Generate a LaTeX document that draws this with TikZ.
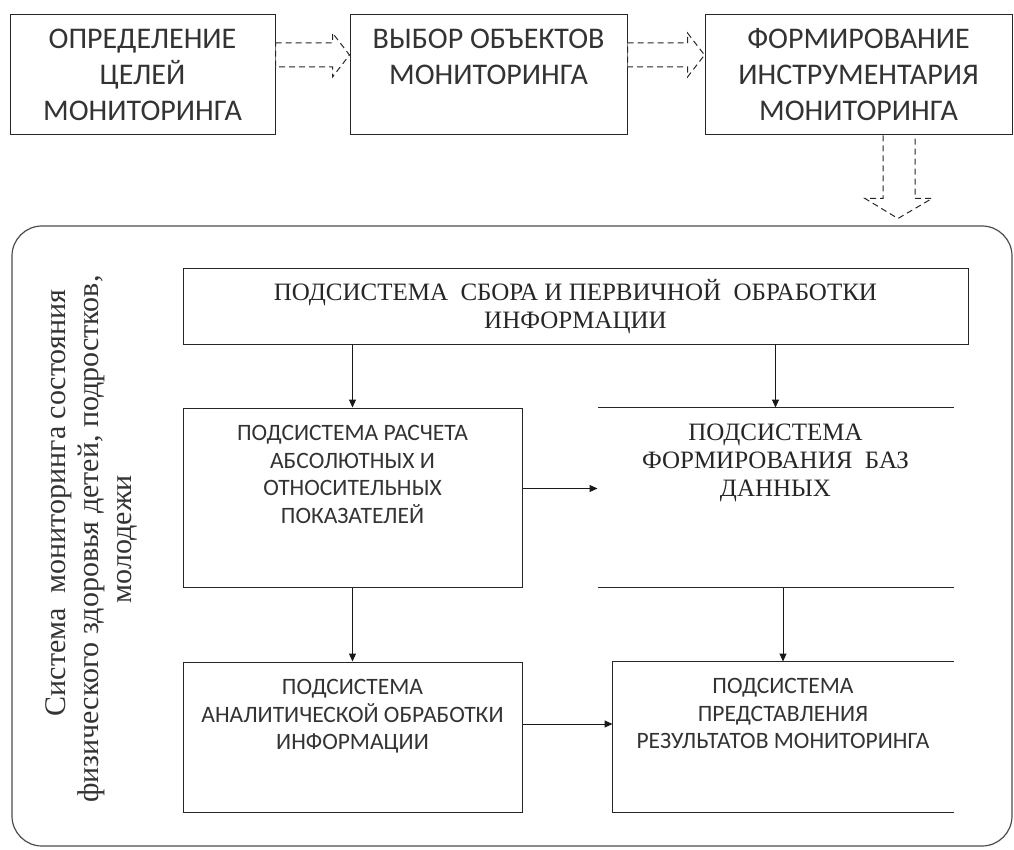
\documentclass[tikz,border=0pt]{standalone}
\usepackage{fontspec}
\setmainfont{Liberation Serif}
\newfontfamily\calfont{Carlito}
\usetikzlibrary{calc}
\usetikzlibrary{arrows,arrows.meta}
\usetikzlibrary{positioning}

\begin{document}
\begin{tikzpicture}[%
		x=1pt, y=-1pt,
		>={Triangle[length=8pt,width=7pt]},
		stagebox/.style={rectangle, draw=black!85, line width=1pt, align=center, inner sep=0pt, text=black!80, font=\calfont\fontsize{30}{36}\selectfont},
		subbox/.style={rectangle, draw=black!85, line width=1pt, align=center, inner sep=0pt, text=black!80, font=\calfont\fontsize{23.5}{27.5}\selectfont},
		serifbox/.style={rectangle, draw=black!85, line width=1pt, align=center, inner sep=0pt, text=black!85, font=\fontsize{25}{28}\selectfont},
		dasharrow/.style={draw=black!85, line width=1pt, dash pattern=on 6pt off 4pt, fill=white},
		flow/.style={->, line width=1pt, black!90}
		]
		\useasboundingbox (0,0) rectangle (1014,850);
		%%%%%%%%%%%%%%%
		%    NODES    %
		%%%%%%%%%%%%%%%
		% stages
		\node[stagebox, minimum width=265pt, minimum height=120pt] (goals) at (142.5,75) {ОПРЕДЕЛЕНИЕ\\ ЦЕЛЕЙ\\ МОНИТОРИНГА};
		\node[stagebox, minimum width=277pt, minimum height=120pt] (objects) at (488.5,75) {ВЫБОР ОБЪЕКТОВ\\ МОНИТОРИНГА\\ \mbox{}};
		\node[stagebox, minimum width=307pt, minimum height=120pt] (tools) at (858.5,75) {ФОРМИРОВАНИЕ\\ ИНСТРУМЕНТАРИЯ\\ МОНИТОРИНГА};
		
		% system frame
		\node[draw=black!70, line width=1.2pt, rounded corners=30pt, minimum width=1000pt, minimum height=620pt] (system) at (512,536) {};
		\node[rotate=90, align=center, text=black!80, font=\fontsize{30}{33}\selectfont] (sysname) at (91,539) {\hspace*{72pt}Система~~мониторинга состояния\\ физического здоровья детей, подростков,\\ молодежи};
		
		% subsystems
		\node[serifbox, minimum width=785pt, minimum height=75pt] (collect) at (575.5,306.5) {ПОДСИСТЕМА~~СБОРА И ПЕРВИЧНОЙ~~ОБРАБОТКИ\\ ИНФОРМАЦИИ};
		\node[subbox, minimum width=339pt, minimum height=179pt] (rates) at (352.5,497.5) {ПОДСИСТЕМА РАСЧЕТА\\ АБСОЛЮТНЫХ И\\ ОТНОСИТЕЛЬНЫХ\\ ПОКАЗАТЕЛЕЙ\\[19pt]\mbox{}};
		\node[serifbox, draw=none, minimum width=355pt, minimum height=179pt] (base) at (775.5,497.5) {ПОДСИСТЕМА\\ ФОРМИРОВАНИЯ~~БАЗ\\ ДАННЫХ\\[46pt]\mbox{}};
		\node[subbox, minimum width=339pt, minimum height=150pt] (analysis) at (352.5,737) {ПОДСИСТЕМА\\ АНАЛИТИЧЕСКОЙ ОБРАБОТКИ\\ ИНФОРМАЦИИ\\[17pt]\mbox{}};
		\node[subbox, draw=none, minimum width=340pt, minimum height=150pt] (report) at (783,737) {ПОДСИСТЕМА\\ ПРЕДСТАВЛЕНИЯ\\ РЕЗУЛЬТАТОВ МОНИТОРИНГА\\[19pt]\mbox{}};
		
		% open sides
		\draw[line width=1pt, black!85] (base.north west) -- (base.north east) (base.south west) -- (base.south east);
		\draw[line width=1pt, black!85] (report.north east) -- (report.north west) -- (report.south west) -- (report.south east);
		
		%%%%%%%%%%%%%%%
		% CONNECTIONS %
		%%%%%%%%%%%%%%%
		\draw[dasharrow] ($(goals.east)+(0,-32)$) -- ++(57,0) -- ++(0,-10) -- ($(objects.west)+(0,-20)$) -- ($(goals.east)+(57,2)$) -- ++(0,-10) -- ($(goals.east)+(0,-8)$) -- cycle;
		\draw[dasharrow] ($(objects.east)+(0,-32)$) -- ++(60,0) -- ++(0,-10) -- ($(tools.west)+(0,-20)$) -- ($(objects.east)+(60,2)$) -- ++(0,-10) -- ($(objects.east)+(0,-8)$) -- cycle;
		\draw[dasharrow] ($(tools.south)+(24.5,0)$) -- ++(0,63) -- ++(-18,0) -- ($(tools.south)+(39.5,83)$) -- ($(tools.south)+(73.5,63)$) -- ++(-17,0) -- ($(tools.south)+(56.5,0)$);
		
		\draw[flow] (collect.south -| rates.north) -- (rates.north);
		\draw[flow] (collect.south -| base.north) -- (base.north);
		\draw[flow] ([yshift=9pt]rates.east) -- ([yshift=9pt]base.west);
		\draw[flow] (rates.south) -- (analysis.north);
		\draw[flow] (base.south -| report.north) -- (report.north);
		\draw[flow] ([yshift=13pt]analysis.east) -- ([yshift=13pt]report.west);
		
	\end{tikzpicture}
\end{document}
